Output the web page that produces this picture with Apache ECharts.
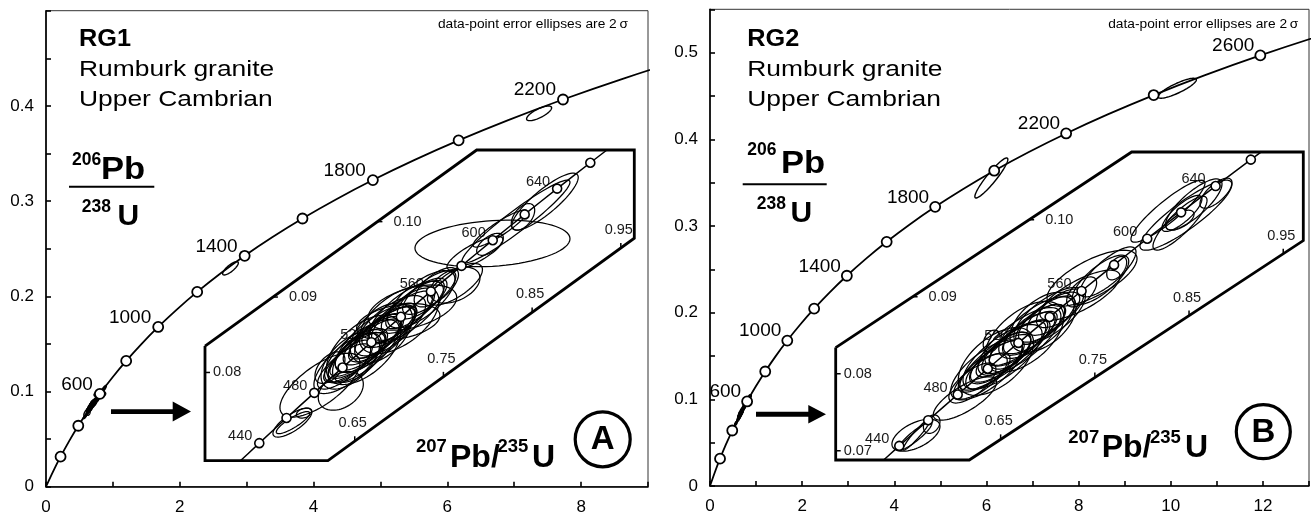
<!DOCTYPE html>
<html>
<head>
<meta charset="utf-8">
<script src="https://cdn.jsdelivr.net/npm/echarts@6.0.0/dist/echarts.min.js"></script>
<style>
html, body { margin: 0; padding: 0; background: #fff; }
#chart { width: 1312px; height: 516px; }
</style>
</head>
<body>
<div id="chart"></div>
<script>
'use strict'
/*----concordia, 100 Ma steps----*/
var concAge = [0, 100, 200, 300, 400, 500, 600, 700, 800, 900, 1000, 1100, 1200, 1300, 1400, 1500, 1600, 1700, 1800, 1900, 2000, 2100, 2200, 2300, 2400, 2500, 2600, 2700, 2800];
var concX = [0, 0.1035, 0.2177, 0.3437, 0.4828, 0.6363, 0.8056, 0.9925, 1.1987, 1.4263, 1.6774, 1.9545, 2.2603, 2.5977, 2.9701, 3.3814, 3.8344, 4.3345, 4.8869, 5.4962, 6.1685, 6.9105, 7.7292, 8.6326, 9.6296, 10.7297, 11.9437, 13.2834, 14.7617];
var concY = [0, 0.01563, 0.03151, 0.04764, 0.06402, 0.08065, 0.09754, 0.11470, 0.13213, 0.14983, 0.16780, 0.18606, 0.20460, 0.22344, 0.24256, 0.26199, 0.28172, 0.30175, 0.32210, 0.34277, 0.36377, 0.38509, 0.40674, 0.42873, 0.45107, 0.47375, 0.49679, 0.52019, 0.54396];
var markAgesA = [200, 400, 600, 800, 1000, 1200, 1400, 1600, 1800, 2000, 2200];
var markAgesB = [200, 400, 600, 800, 1000, 1200, 1400, 1600, 1800, 2000, 2200, 2400, 2600];
var labelAgesA = [600, 1000, 1400, 1800, 2200];
var labelAgesB = [600, 1000, 1400, 1800, 2200, 2600];

/*----inset concordia, 20 Ma steps----*/
var insetAge = [420, 440, 460, 480, 500, 520, 540, 560, 580, 600, 620, 640, 660, 680];
var insetX = [0.5123, 0.5424, 0.5731, 0.6044, 0.6363, 0.6688, 0.7020, 0.7359, 0.7704, 0.8056, 0.8416, 0.8782, 0.9156, 0.9537];
var insetY = [0.06732, 0.07063, 0.07397, 0.07730, 0.08065, 0.08401, 0.08738, 0.09075, 0.09414, 0.09754, 0.10096, 0.10438, 0.10781, 0.11125];
var insetMarkAges = [440, 460, 480, 500, 520, 540, 560, 580, 600, 620, 640, 660];
var insetLabelAges = [440, 480, 520, 560, 600, 640];

/*----tick labels----*/
var xLabA = [0, 2, 4, 6, 8];
var yLabA = [0, 0.1, 0.2, 0.3, 0.4];
var xLabB = [0, 2, 4, 6, 8, 10, 12];
var yLabB = [0, 0.1, 0.2, 0.3, 0.4, 0.5];
var insetXTicks = [0.65, 0.75, 0.85, 0.95];
var insetYTicksA = [0.08, 0.09, 0.10];
var insetYTicksB = [0.07, 0.08, 0.09, 0.10];

/*----inset outlines (207/235, 206/238)----*/
var frameA = [[0.4812, 0.0835], [0.4812, 0.0683], [0.6198, 0.0683], [0.9652, 0.0978], [0.9652, 0.1095], [0.7875, 0.1095], [0.4812, 0.0835]];
var frameB = [[0.4749, 0.0834], [0.4749, 0.0688], [0.6167, 0.0688], [0.9713, 0.0973], [0.9713, 0.1088], [0.7891, 0.1088], [0.4749, 0.0834]];

/*----error ellipses: x, y, 2s x, 2s y, rho----*/
var ellMainA = [[2.758, 0.2294, 0.117, 0.0070, 0.8], [7.372, 0.3922, 0.187, 0.0077, 0.75]];
var ellMainB = [[6.106, 0.3554, 0.358, 0.0231, 0.93], [10.14, 0.4589, 0.416, 0.0115, 0.85]];
var ellA = [
	[0.5798, 0.07335, 0.0220, 0.00192, 0.75], [0.5804, 0.07335, 0.0188, 0.00146, 0.85],
	[0.5928, 0.07461, 0.0085, 0.00066, 0.30], [0.6108, 0.07832, 0.0451, 0.00424, 0.70],
	[0.6343, 0.07755, 0.0254, 0.00256, 0.35], [0.6221, 0.08064, 0.0169, 0.00210, 0.50],
	[0.6380, 0.0808, 0.0300, 0.00300, 0.75], [0.6450, 0.0815, 0.0250, 0.00280, 0.70],
	[0.6500, 0.0820, 0.0350, 0.00330, 0.80], [0.6560, 0.0828, 0.0280, 0.00250, 0.65],
	[0.6620, 0.0833, 0.0400, 0.00380, 0.82], [0.6650, 0.0836, 0.0220, 0.00220, 0.60],
	[0.6700, 0.0842, 0.0330, 0.00320, 0.75], [0.6760, 0.0848, 0.0260, 0.00290, 0.70],
	[0.6820, 0.0853, 0.0380, 0.00350, 0.80], [0.6880, 0.0860, 0.0300, 0.00270, 0.65],
	[0.6940, 0.0866, 0.0250, 0.00260, 0.70], [0.6991, 0.0867, 0.0470, 0.00243, 0.35],
	[0.7020, 0.0874, 0.0360, 0.00340, 0.78], [0.7100, 0.0882, 0.0300, 0.00300, 0.70],
	[0.7180, 0.0890, 0.0330, 0.00320, 0.76], [0.7260, 0.0898, 0.0280, 0.00270, 0.70],
	[0.7340, 0.0906, 0.0300, 0.00290, 0.74], [0.7420, 0.0913, 0.0250, 0.00260, 0.65],
	[0.6700, 0.0840, 0.0500, 0.00480, 0.85], [0.6420, 0.0812, 0.0380, 0.00400, 0.70],
	[0.6580, 0.0828, 0.0420, 0.00420, 0.72], [0.6730, 0.0845, 0.0450, 0.00450, 0.75],
	[0.6900, 0.0862, 0.0400, 0.00400, 0.70], [0.7080, 0.0880, 0.0420, 0.00410, 0.72],
	[0.7250, 0.0897, 0.0380, 0.00380, 0.70], [0.7150, 0.0886, 0.0500, 0.00300, 0.45],
	[0.6550, 0.0822, 0.0300, 0.00350, 0.60], [0.6850, 0.0858, 0.0200, 0.00200, 0.55],
	[0.6600, 0.0830, 0.0420, 0.00460, 0.55], [0.7000, 0.0870, 0.0450, 0.00450, 0.55],
	[0.6800, 0.0852, 0.0350, 0.00400, 0.50], [0.6450, 0.0816, 0.0330, 0.00380, 0.55],
	[0.7630, 0.09158, 0.0282, 0.00239, 0.40], [0.7630, 0.09170, 0.0310, 0.00276, 0.70],
	[0.7856, 0.0958, 0.0316, 0.00225, 0.80], [0.8025, 0.0970, 0.0150, 0.00146, 0.60],
	[0.8053, 0.09711, 0.0874, 0.00309, 0.20], [0.8138, 0.09908, 0.0304, 0.00245, 0.90],
	[0.8645, 0.10265, 0.0375, 0.00378, 0.85], [0.8318, 0.10000, 0.0609, 0.00550, 0.95],
	[0.8397, 0.10064, 0.0132, 0.00176, 0.50]
];
var ellB = [
	[0.5601, 0.07202, 0.0255, 0.00208, 0.55], [0.5612, 0.07215, 0.0149, 0.00208, 0.95],
	[0.5590, 0.07189, 0.0180, 0.00182, 0.90], [0.5768, 0.07345, 0.0088, 0.00120, 0.30],
	[0.6121, 0.07679, 0.0336, 0.00282, 0.75],
	[0.6200, 0.0788, 0.0250, 0.00260, 0.70], [0.6300, 0.0797, 0.0300, 0.00300, 0.75],
	[0.6350, 0.0803, 0.0220, 0.00230, 0.60], [0.6400, 0.0810, 0.0350, 0.00340, 0.80],
	[0.6450, 0.0815, 0.0280, 0.00280, 0.72], [0.6500, 0.0820, 0.0320, 0.00310, 0.75],
	[0.6560, 0.0827, 0.0260, 0.00270, 0.68], [0.6620, 0.0833, 0.0380, 0.00370, 0.82],
	[0.6680, 0.0839, 0.0300, 0.00290, 0.72], [0.6740, 0.0846, 0.0360, 0.00350, 0.80],
	[0.6800, 0.0852, 0.0280, 0.00280, 0.70], [0.6860, 0.0858, 0.0330, 0.00320, 0.75],
	[0.6920, 0.0864, 0.0260, 0.00260, 0.68], [0.6990, 0.0871, 0.0300, 0.00300, 0.72],
	[0.7060, 0.0878, 0.0280, 0.00280, 0.70], [0.7130, 0.0885, 0.0250, 0.00250, 0.65],
	[0.6405, 0.08423, 0.0090, 0.00143, 0.30], [0.6546, 0.08241, 0.0478, 0.00455, 0.85],
	[0.6350, 0.0805, 0.0380, 0.00390, 0.70], [0.6520, 0.0822, 0.0420, 0.00420, 0.72],
	[0.6700, 0.0842, 0.0440, 0.00440, 0.75], [0.6880, 0.0860, 0.0400, 0.00400, 0.70],
	[0.7020, 0.0875, 0.0380, 0.00370, 0.70], [0.6600, 0.0830, 0.0220, 0.00240, 0.55],
	[0.6450, 0.0816, 0.0400, 0.00440, 0.55], [0.6750, 0.0848, 0.0420, 0.00460, 0.55],
	[0.6950, 0.0867, 0.0350, 0.00390, 0.50],
	[0.7470, 0.09241, 0.0478, 0.00364, 0.70], [0.7640, 0.09323, 0.0297, 0.00325, 0.80],
	[0.7732, 0.09371, 0.0106, 0.00152, 0.50], [0.7360, 0.09063, 0.0159, 0.00195, 0.60],
	[0.7342, 0.09020, 0.0425, 0.00325, 0.75], [0.7560, 0.0922, 0.0300, 0.00320, 0.75],
	[0.8276, 0.10111, 0.0393, 0.00403, 0.90], [0.8467, 0.10059, 0.0488, 0.00455, 0.88],
	[0.8425, 0.10082, 0.0212, 0.00234, 0.80], [0.8404, 0.09994, 0.0149, 0.00130, 0.60],
	[0.8786, 0.10345, 0.0170, 0.00195, 0.70], [0.8404, 0.09955, 0.0287, 0.00350, 0.85],
	[0.8550, 0.10200, 0.0300, 0.00330, 0.80]
];

var FONT = '"Liberation Sans", Arial, sans-serif';

function pick(ages, xs, ys, only) {
	var out = [];
	for (var i = 0; i < ages.length; i++) {
		if (!only || only.indexOf(ages[i]) > -1) out.push([xs[i], ys[i], ages[i]]);
	}
	return out;
}
// lower edge of an inset outline at x, left edge at y
function frameBottomY(fr, x) {
	var a = fr[2], b = fr[3];
	if (x <= a[0]) return a[1];
	return a[1] + (x - a[0]) / (b[0] - a[0]) * (b[1] - a[1]);
}
function frameLeftX(fr, y) {
	var a = fr[0], b = fr[5];
	if (y <= a[1]) return a[0];
	return a[0] + (y - a[1]) / (b[1] - a[1]) * (b[0] - a[0]);
}

/*----axes----*/
function mainX(gi, max, labs) {
	return {
		type: 'value', gridIndex: gi, min: 0, max: max, interval: 1,
		axisLine: { onZero: false, lineStyle: { color: '#000', width: 1.6 } },
		axisTick: { inside: true, length: 5, lineStyle: { color: '#000', width: 1.6 } },
		splitLine: { show: false },
		axisLabel: {
			margin: 12, fontSize: 17, fontFamily: FONT, color: '#000', interval: 0,
			formatter: function (v) { return labs.indexOf(v) > -1 ? String(v) : ''; }
		}
	};
}
function mainY(gi, max, labs) {
	return {
		type: 'value', gridIndex: gi, min: 0, max: max, interval: 0.05,
		axisLine: { onZero: false, lineStyle: { color: '#000', width: 1.6 } },
		axisTick: { inside: true, length: 5, lineStyle: { color: '#000', width: 1.6 } },
		splitLine: { show: false },
		axisLabel: {
			margin: 12, fontSize: 17, fontFamily: FONT, color: '#000', interval: 0,
			formatter: function (v) {
				var r = Math.round(v * 100) / 100;
				return labs.indexOf(r) > -1 ? String(r) : '';
			}
		}
	};
}
function hiddenAxis(gi, min, max) {
	return { type: 'value', gridIndex: gi, min: min, max: max, show: false, splitLine: { show: false } };
}

/*----series builders----*/
function curve(ai, data, w) {
	return {
		type: 'line', xAxisIndex: ai, yAxisIndex: ai, data: data, smooth: 0.3, symbol: 'none',
		clip: true, silent: true, z: 3, lineStyle: { color: '#000', width: w }
	};
}
function marks(ai, data, size, bw) {
	return {
		type: 'scatter', xAxisIndex: ai, yAxisIndex: ai, data: data, symbol: 'circle', symbolSize: size,
		silent: true, z: 6, itemStyle: { color: '#fff', borderColor: '#000', borderWidth: bw, opacity: 1 }
	};
}
function ellipses(ai, data, w) {
	return {
		type: 'custom', xAxisIndex: ai, yAxisIndex: ai, data: data, z: 2, silent: true,
		encode: { x: 0, y: 1 },
		renderItem: function (params, api) {
			var cx = api.value(0), cy = api.value(1), sx = api.value(2), sy = api.value(3), r = api.value(4);
			var q = Math.sqrt(1 - r * r), ring = [];
			for (var k = 0; k < 72; k++) {
				var t = k / 72 * 2 * Math.PI;
				ring.push(api.coord([cx + sx * Math.cos(t), cy + sy * (r * Math.cos(t) + q * Math.sin(t))]));
			}
			return { type: 'polygon', shape: { points: ring }, style: { fill: 'none', stroke: '#000', lineWidth: w } };
		}
	};
}
function ageLabels(ai, data, dx, dy, size, color) {
	return {
		type: 'custom', xAxisIndex: ai, yAxisIndex: ai, data: data, z: 1, silent: true,
		encode: { x: 0, y: 1 },
		renderItem: function (params, api) {
			var p = api.coord([api.value(0), api.value(1)]);
			return {
				type: 'text', x: p[0] + dx, y: p[1] + dy,
				style: {
					text: String(api.value(2)), font: size + 'px ' + FONT, fill: color,
					align: 'right', textAlign: 'right', verticalAlign: 'middle', textVerticalAlign: 'middle'
				}
			};
		}
	};
}
function xTicks(ai, fr, vals) {
	return {
		type: 'custom', xAxisIndex: ai, yAxisIndex: ai, z: 4, silent: true, encode: { x: 0, y: 1 },
		data: vals.map(function (v) { return [v, frameBottomY(fr, v)]; }),
		renderItem: function (params, api) {
			var p = api.coord([api.value(0), api.value(1)]);
			return {
				type: 'group', children: [
					{ type: 'line', shape: { x1: p[0], y1: p[1], x2: p[0], y2: p[1] - 5 }, style: { stroke: '#000', lineWidth: 1.5 } },
					{ type: 'text', x: p[0] - 2, y: p[1] - 18, style: {
						text: api.value(0).toFixed(2), font: '14.5px ' + FONT, fill: '#1a1a1a',
						align: 'center', textAlign: 'center', verticalAlign: 'middle', textVerticalAlign: 'middle' } }
				]
			};
		}
	};
}
function yTicks(ai, fr, vals) {
	return {
		type: 'custom', xAxisIndex: ai, yAxisIndex: ai, z: 4, silent: true, encode: { x: 0, y: 1 },
		data: vals.map(function (v) { return [frameLeftX(fr, v), v]; }),
		renderItem: function (params, api) {
			var p = api.coord([api.value(0), api.value(1)]);
			var off = api.value(1) > fr[0][1] ? 16 : 8;
			return {
				type: 'group', children: [
					{ type: 'line', shape: { x1: p[0], y1: p[1], x2: p[0] + 5, y2: p[1] }, style: { stroke: '#000', lineWidth: 1.5 } },
					{ type: 'text', x: p[0] + off, y: p[1], style: {
						text: api.value(1).toFixed(2), font: '14.5px ' + FONT, fill: '#1a1a1a',
						align: 'left', textAlign: 'left', verticalAlign: 'middle', textVerticalAlign: 'middle' } }
				]
			};
		}
	};
}
function outline(ai, fr) {
	return {
		type: 'line', xAxisIndex: ai, yAxisIndex: ai, data: fr, symbol: 'none', clip: false,
		silent: true, z: 4, lineStyle: { color: '#000', width: 2.8, join: 'miter' }
	};
}

/*----graphic texts----*/
function T(x, y, s, size, bold, align, sx) {
	return {
		type: 'text', x: x, y: y, scaleX: sx || 1, z: 10, silent: true,
		style: {
			text: s, font: (bold ? 'bold ' : '') + size + 'px ' + FONT, fill: '#000',
			align: align || 'left', textAlign: align || 'left', verticalAlign: 'middle', textVerticalAlign: 'middle'
		}
	};
}
function bar(x1, x2, y) {
	return { type: 'line', z: 10, silent: true, shape: { x1: x1, y1: y, x2: x2, y2: y }, style: { stroke: '#000', lineWidth: 2 } };
}
function ring(cx, cy, r) {
	return { type: 'circle', z: 10, silent: true, shape: { cx: cx, cy: cy, r: r }, style: { fill: 'none', stroke: '#000', lineWidth: 3.2 } };
}
function arrow(x0, x1, x2, y, h, w) {
	return {
		type: 'polygon', z: 10, silent: true,
		shape: { points: [[x0, y - w], [x1, y - w], [x1, y - h], [x2, y], [x1, y + h], [x1, y + w], [x0, y + w]] },
		style: { fill: '#000' }
	};
}

var concAll = pick(concAge, concX, concY);
var insetAll = pick(insetAge, insetX, insetY);

var chart = echarts.init(document.getElementById('chart'));
var option = {
	animation: false,
	grid: [
		{ left: 46, top: 10.7, width: 602, height: 476, show: true, borderColor: '#333', borderWidth: 1 },
		{ left: 710, top: 9.3, width: 599.3, height: 476.7, show: true, borderColor: '#333', borderWidth: 1 },
		{ left: 205, top: 150, width: 429.3, height: 310.7 },
		{ left: 835.7, top: 152, width: 467.6, height: 308 }
	],
	xAxis: [mainX(0, 9, xLabA), mainX(1, 13, xLabB), hiddenAxis(2, 0.4812, 0.9652), hiddenAxis(3, 0.4749, 0.9713)],
	yAxis: [mainY(0, 0.5, yLabA), mainY(1, 0.55, yLabB), hiddenAxis(2, 0.0683, 0.1095), hiddenAxis(3, 0.0688, 0.1088)],
	series: [
		/*----RG1----*/
		curve(0, concAll, 1.8),
		ellipses(0, ellMainA.concat(ellA), 1.4),
		marks(0, pick(concAge, concX, concY, markAgesA), 10, 1.8),
		ageLabels(0, pick(concAge, concX, concY, labelAgesA), -7, -9.5, 19, '#000'),
		outline(2, frameA),
		curve(2, insetAll, 1.5),
		ellipses(2, ellA, 1.25),
		marks(2, pick(insetAge, insetX, insetY, insetMarkAges), 9, 1.6),
		ageLabels(2, pick(insetAge, insetX, insetY, insetLabelAges), -7, -7, 14.5, '#1a1a1a'),
		xTicks(2, frameA, insetXTicks),
		yTicks(2, frameA, insetYTicksA),
		/*----RG2----*/
		curve(1, concAll, 1.8),
		ellipses(1, ellMainB.concat(ellB), 1.4),
		marks(1, pick(concAge, concX, concY, markAgesB), 10, 1.8),
		ageLabels(1, pick(concAge, concX, concY, labelAgesB), -6, -9.5, 19, '#000'),
		outline(3, frameB),
		curve(3, insetAll, 1.5),
		ellipses(3, ellB, 1.25),
		marks(3, pick(insetAge, insetX, insetY, insetMarkAges), 9, 1.6),
		ageLabels(3, pick(insetAge, insetX, insetY, insetLabelAges), -10, -7, 14.5, '#1a1a1a'),
		xTicks(3, frameB, insetXTicks),
		yTicks(3, frameB, insetYTicksB)
	],
	graphic: [
		T(79, 40, 'RG1', 23, true, 'left', 1.1),
		T(79, 69.5, 'Rumburk granite', 22, false, 'left', 1.2),
		T(79, 99.5, 'Upper Cambrian', 22, false, 'left', 1.2),
		T(628, 25, 'data-point error ellipses are 2\u2009\u03c3', 12.5, false, 'right', 1.1),
		T(72, 160, '206', 17.5, true),
		T(101, 170, 'Pb', 32, true, 'left', 1.08),
		bar(69, 154.3, 186.7),
		T(81.7, 207.5, '238', 17.5, true),
		T(117.5, 216.7, 'U', 30, true),
		T(416, 446.7, '207', 18.5, true),
		T(450, 458, 'Pb/', 32, true),
		T(497.5, 446.7, '235', 18.5, true),
		T(532, 458, 'U', 32, true),
		ring(602.7, 439.3, 27.5),
		T(602.7, 440, 'A', 33, true, 'center'),
		arrow(111, 172.7, 191, 411.6, 10, 2.4),

		T(747.3, 40, 'RG2', 23, true, 'left', 1.1),
		T(747.3, 69.5, 'Rumburk granite', 22, false, 'left', 1.2),
		T(747.3, 99.5, 'Upper Cambrian', 22, false, 'left', 1.2),
		T(1298.3, 25, 'data-point error ellipses are 2\u2009\u03c3', 12.5, false, 'right', 1.1),
		T(747.3, 150, '206', 17.5, true),
		T(781, 164.5, 'Pb', 32, true, 'left', 1.08),
		bar(742.7, 826.7, 184.3),
		T(756.7, 204, '238', 17.5, true),
		T(790.5, 213.5, 'U', 30, true),
		T(1068.3, 437.5, '207', 18.5, true),
		T(1101.7, 448.5, 'Pb/', 32, true),
		T(1150, 437.5, '235', 18.5, true),
		T(1185, 448.5, 'U', 32, true),
		ring(1263.3, 431.7, 27),
		T(1263.3, 432.5, 'B', 33, true, 'center'),
		arrow(756, 808.3, 826, 414.3, 9.3, 2.5)
	]
};
chart.setOption(option);
</script>
</body>
</html>
